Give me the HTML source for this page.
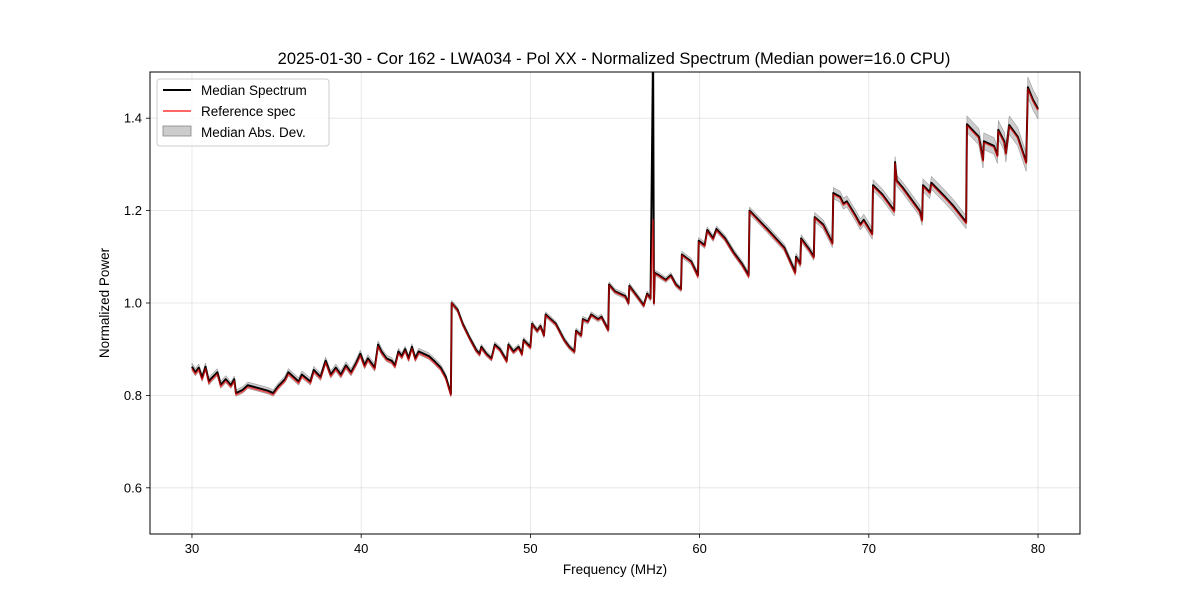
<!DOCTYPE html>
<html><head><meta charset="utf-8"><style>
body{margin:0;background:#fff;}
svg{display:block;font-family:"Liberation Sans","DejaVu Sans",sans-serif;}
</style></head><body>
<svg id="chart" width="1200" height="600">
<rect width="1200" height="600" fill="#fff"/>
<text x="614" y="64" font-size="16.5" text-anchor="middle">2025-01-30 - Cor 162 - LWA034 - Pol XX - Normalized Spectrum (Median power=16.0 CPU)</text>
<defs><clipPath id="clip"><rect x="150" y="72" width="930" height="462"/></clipPath></defs>
<g id="grid"></g>
<g id="series" clip-path="url(#clip)"></g>
<rect x="150" y="72" width="930" height="462" fill="none" stroke="#000" stroke-width="1"/>
<g id="ticks"></g>
<text x="615" y="574" font-size="13.5" text-anchor="middle">Frequency (MHz)</text>
<text transform="translate(109,303) rotate(-90)" font-size="13.5" text-anchor="middle">Normalized Power</text>
<g>
<rect x="157" y="79" width="172" height="67" rx="3" fill="#fff" fill-opacity="0.8" stroke="#ccc"/>
<line x1="163" y1="90" x2="191" y2="90" stroke="#000" stroke-width="2"/>
<text x="201" y="95" font-size="13.5">Median Spectrum</text>
<line x1="163" y1="111" x2="191" y2="111" stroke="#ff0000" stroke-opacity="0.6" stroke-width="2"/>
<text x="201" y="116" font-size="13.5">Reference spec</text>
<rect x="163" y="126" width="28" height="10" fill="#999" fill-opacity="0.5" stroke="#888" stroke-width="0.8"/>
<text x="201" y="137" font-size="13.5">Median Abs. Dev.</text>
</g>
</svg>
<script>
const freqs=[30.0,30.2,30.4,30.6,30.8,31.0,31.1,31.5,31.7,32.0,
32.3,32.5,32.6,33.0,33.3,34.0,34.5,34.8,35.1,35.5,
35.7,36.0,36.3,36.5,37.0,37.2,37.6,37.9,38.2,38.5,
38.8,39.1,39.4,39.7,39.95,40.2,40.4,40.8,41.0,41.2,
41.5,41.8,42.0,42.2,42.4,42.6,42.8,43.0,43.2,43.4,
43.7,44.0,44.3,44.7,45.0,45.3,45.35,45.7,46.0,46.4,
46.8,47.0,47.1,47.4,47.7,47.9,48.2,48.6,48.7,49.0,
49.3,49.5,49.6,50.0,50.1,50.4,50.6,50.8,50.9,51.5,
52.0,52.3,52.6,52.7,53.0,53.1,53.4,53.6,54.0,54.2,
54.6,54.65,55.0,55.6,55.8,55.85,56.3,56.7,56.9,57.1,
57.25,57.3,57.35,57.6,58.0,58.3,58.6,58.9,58.95,59.5,
59.9,59.95,60.3,60.45,60.8,61.0,61.5,62.0,62.5,62.9,
62.95,64.0,65.0,65.65,65.7,65.95,66.0,66.5,66.75,66.8,
67.3,67.85,67.9,68.3,68.5,68.7,69.2,69.5,69.7,70.2,
70.25,70.8,71.5,71.55,71.65,72.0,73.0,73.15,73.2,73.6,
73.7,74.5,75.0,75.75,75.8,76.5,76.75,76.8,77.4,77.6,
77.65,78.0,78.1,78.3,78.8,79.3,79.4,79.7,80.0];
const median=[.862,.850,.860,.838,.862,.830,.835,.850,.823,.835,
.822,.835,.805,.812,.822,.815,.810,.805,.820,.835,
.850,.840,.830,.845,.830,.855,.840,.875,.845,.860,
.845,.865,.850,.870,.890,.865,.880,.860,.910,.895,
.880,.875,.865,.895,.885,.900,.880,.905,.880,.895,
.890,.885,.875,.860,.840,.803,1.0,.985,.955,.925,
.898,.890,.905,.890,.880,.910,.900,.875,.910,.895,
.905,.890,.920,.905,.955,.940,.950,.930,.975,.955,
.920,.905,.895,.940,.930,.965,.960,.975,.965,.970,
.942,1.040,1.025,1.015,1.000,1.037,1.015,.995,1.020,1.010,
1.55,1.0,1.065,1.060,1.050,1.060,1.040,1.030,1.105,1.090,
1.060,1.135,1.125,1.158,1.140,1.160,1.140,1.110,1.085,1.060,
1.200,1.160,1.120,1.067,1.100,1.085,1.140,1.115,1.100,1.186,
1.170,1.130,1.238,1.230,1.215,1.220,1.190,1.170,1.180,1.150,
1.255,1.235,1.200,1.305,1.265,1.250,1.200,1.180,1.255,1.240,
1.260,1.230,1.210,1.175,1.387,1.360,1.310,1.350,1.340,1.320,
1.375,1.350,1.325,1.385,1.360,1.305,1.467,1.440,1.420];
const refSpec=[.858,.846,.856,.834,.858,.826,.831,.846,.819,.831,
.818,.831,.801,.808,.818,.811,.806,.801,.816,.831,
.846,.836,.826,.841,.826,.851,.836,.871,.841,.856,
.841,.861,.846,.866,.886,.861,.876,.856,.906,.891,
.876,.871,.861,.891,.881,.896,.876,.901,.876,.891,
.886,.881,.871,.856,.836,.800,1.0,.983,.953,.923,
.895,.887,.902,.887,.877,.907,.897,.872,.907,.892,
.902,.887,.917,.902,.953,.938,.948,.928,.973,.953,
.918,.903,.893,.938,.928,.963,.958,.973,.963,.968,
.940,1.038,1.023,1.013,.998,1.035,1.013,.993,1.018,1.008,
1.18,.998,1.063,1.058,1.048,1.058,1.038,1.028,1.103,1.088,
1.056,1.132,1.122,1.155,1.137,1.157,1.137,1.107,1.082,1.056,
1.198,1.157,1.117,1.063,1.097,1.082,1.137,1.112,1.097,1.184,
1.167,1.127,1.235,1.227,1.212,1.217,1.187,1.167,1.177,1.147,
1.252,1.232,1.197,1.302,1.262,1.247,1.197,1.177,1.252,1.237,
1.257,1.227,1.207,1.172,1.384,1.357,1.307,1.347,1.337,1.317,
1.372,1.347,1.322,1.382,1.357,1.302,1.463,1.437,1.417];
const mad=[.008,.008,.008,.008,.008,.008,.008,.008,.008,.008,
.007,.007,.007,.007,.007,.007,.007,.007,.007,.007,
.008,.008,.008,.008,.008,.008,.008,.008,.008,.008,
.008,.008,.008,.008,.008,.008,.008,.008,.008,.008,
.007,.007,.007,.007,.007,.007,.007,.007,.007,.007,
.007,.007,.007,.007,.007,.007,.006,.006,.006,.006,
.006,.006,.006,.006,.006,.006,.006,.006,.006,.006,
.006,.006,.006,.006,.006,.006,.006,.006,.006,.006,
.006,.006,.006,.006,.006,.006,.006,.006,.006,.006,
.006,.006,.006,.006,.006,.006,.006,.006,.006,.006,
.006,.006,.006,.006,.006,.006,.006,.006,.007,.007,
.007,.007,.007,.007,.007,.007,.007,.007,.007,.007,
.008,.008,.008,.008,.008,.008,.008,.008,.008,.010,
.010,.010,.012,.012,.012,.012,.012,.012,.012,.012,
.012,.012,.012,.012,.012,.012,.012,.012,.014,.014,
.014,.014,.014,.014,.018,.018,.018,.018,.018,.018,
.020,.020,.020,.020,.020,.020,.022,.022,.022];
const xTicks=[30,40,50,60,70,80];
const yTicks=[0.6,0.8,1.0,1.2,1.4];
const yTickLabels=["0.6","0.8","1.0","1.2","1.4"];

const X0=150,X1=1080,Y0=534,Y1=72,xmin=27.52,xmax=82.48,ymin=0.5,ymax=1.5;
const sx=v=>X0+(v-xmin)/(xmax-xmin)*(X1-X0);
const sy=v=>Y0-(v-ymin)/(ymax-ymin)*(Y0-Y1);
const NS="http://www.w3.org/2000/svg";
function mk(tag,attrs,parent){const e=document.createElementNS(NS,tag);for(const k in attrs)e.setAttribute(k,attrs[k]);parent.appendChild(e);return e;}
const grid=document.getElementById('grid'),ticks=document.getElementById('ticks'),series=document.getElementById('series');
xTicks.forEach(t=>{
 const g=mk('line',{x1:sx(t),x2:sx(t),y1:Y1,y2:Y0,stroke:'#b0b0b0','stroke-opacity':0.35,'stroke-width':0.8},grid);
 
 
 const tk=mk('line',{x1:sx(t),x2:sx(t),y1:Y0,y2:Y0+4,stroke:'#000','stroke-width':0.8},ticks);
 
 
 const lb=mk('text',{x:sx(t),y:Y0+19,'font-size':13,'text-anchor':'middle'},ticks);lb.textContent=t;
 
 
});
yTicks.forEach((t,i)=>{
 const g=mk('line',{x1:X0,x2:X1,y1:sy(t),y2:sy(t),stroke:'#b0b0b0','stroke-opacity':0.35,'stroke-width':0.8},grid);
 
 
 const tk=mk('line',{x1:X0-4,x2:X0,y1:sy(t),y2:sy(t),stroke:'#000','stroke-width':0.8},ticks);
 
 
 const lb=mk('text',{x:X0-8,y:sy(t)+4.5,'font-size':13,'text-anchor':'end'},ticks);lb.textContent=yTickLabels[i];
 
 
});
let up=[],dn=[];
freqs.forEach((f,i)=>{up.push(sx(f)+','+sy(median[i]+mad[i]));dn.unshift(sx(f)+','+sy(median[i]-mad[i]));});
const band=mk('polygon',{points:up.concat(dn).join(' '),fill:'#999','fill-opacity':0.5,stroke:'#888','stroke-width':0.5},series);


const medLine=mk('polyline',{points:freqs.map((f,i)=>sx(f)+','+sy(median[i])).join(' '),fill:'none',stroke:'#000','stroke-width':2,'stroke-linejoin':'round'},series);


const refLine=mk('polyline',{points:freqs.map((f,i)=>sx(f)+','+sy(refSpec[i])).join(' '),fill:'none',stroke:'#ff0000','stroke-opacity':0.6,'stroke-width':1.6,'stroke-linejoin':'round'},series);


</script>
</body></html>
